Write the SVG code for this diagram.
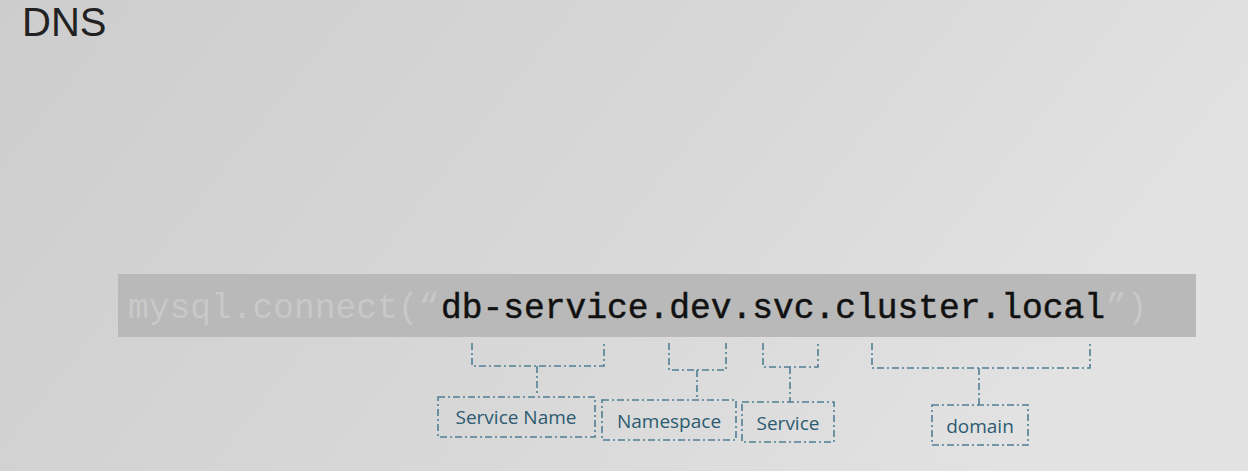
<svg xmlns="http://www.w3.org/2000/svg" width="1248" height="471" viewBox="0 0 1248 471">
<defs>
<linearGradient id="bg" x1="0" y1="0" x2="1" y2="0.3">
<stop offset="0" stop-color="#cdcdcd"/>
<stop offset="0.6" stop-color="#d8d8d8"/>
<stop offset="1" stop-color="#e2e2e2"/>
</linearGradient>
<style>
.brace{fill:none;stroke:#4f7f94;stroke-width:1.6;stroke-dasharray:7 3 2 3}
.box{fill:none;stroke:#4f7f94;stroke-width:1.6;stroke-dasharray:7 3 2 3}
.lbl{font-family:"Open Sans","Liberation Sans",sans-serif;font-size:19px;fill:#2c5b70;text-anchor:middle}
.mono{font-family:"Liberation Mono","DejaVu Sans Mono",monospace;font-size:34.6px}
</style>
</defs>
<rect width="1248" height="471" fill="url(#bg)"/>
<text x="22" y="36" font-family="Liberation Sans, sans-serif" font-size="40" fill="#222">DNS</text>
<g id="code">
<rect x="118" y="274" width="1078" height="63" fill="#b9b9b9"/>
<text x="128" y="318" class="mono" fill="#c8c8c8">mysql.connect(“</text>
<text x="441" y="318" class="mono" fill="#111" stroke="#111" stroke-width="0.5">db-service.dev.svc.cluster.local</text>
<text x="1106" y="318" class="mono" fill="#c8c8c8">”)</text>
</g>
<g id="connectors">
<path class="brace" d="M472 343 V366 H604 V343 M537 366 V396"/>
<path class="brace" d="M669 343 V370 H726 V343 M697 370 V400"/>
<path class="brace" d="M763 343 V367 H818 V343 M790 367 V402"/>
<path class="brace" d="M872 343 V368 H1090 V343 M979 368 V405"/>
</g>
<g id="service-name">
<rect class="box" x="438" y="397" width="157" height="40"/>
<text class="lbl" x="516" y="424">Service Name</text>
</g>
<g id="namespace">
<rect class="box" x="602" y="400" width="134" height="40"/>
<text class="lbl" x="669" y="428">Namespace</text>
</g>
<g id="service">
<rect class="box" x="742" y="402" width="92" height="40"/>
<text class="lbl" x="788" y="430">Service</text>
</g>
<g id="domain">
<rect class="box" x="932" y="405" width="96" height="40"/>
<text class="lbl" x="980" y="433">domain</text>
</g>
</svg>
